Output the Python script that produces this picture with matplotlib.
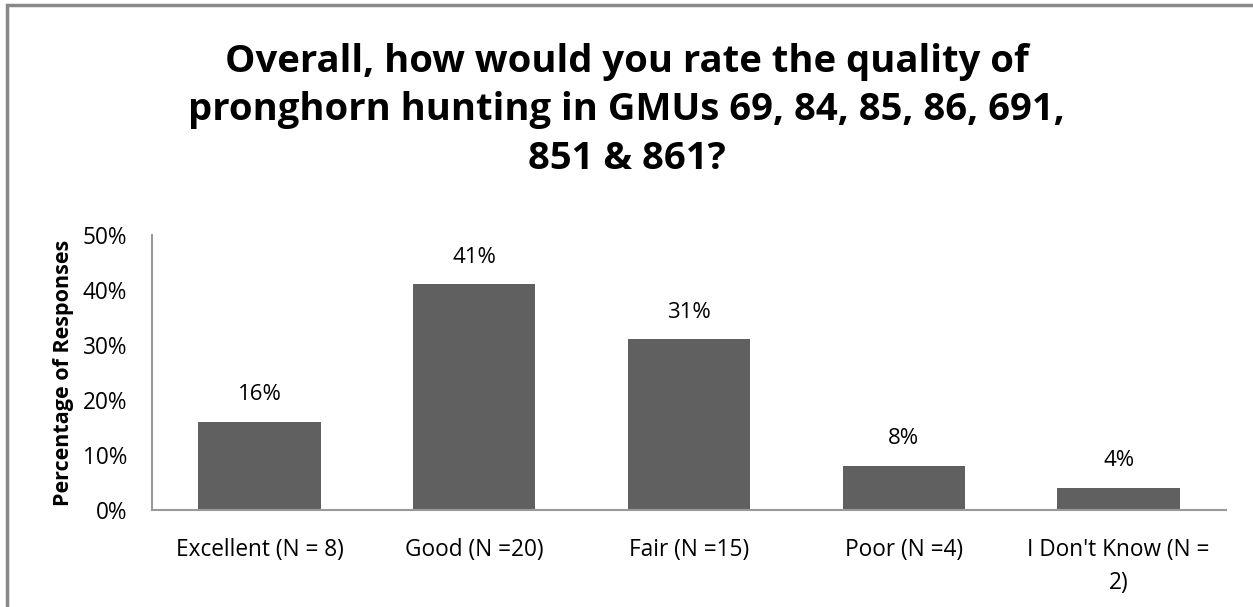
import matplotlib.pyplot as plt
from matplotlib.patches import Rectangle
from matplotlib.ticker import FuncFormatter

categories = ["Excellent (N = 8)", "Good (N =20)", "Fair (N =15)",
              "Poor (N =4)", "I Don't Know (N =\n2)"]
percents = [16, 41, 31, 8, 4]
yticks = [0, 10, 20, 30, 40, 50]

plt.rcParams['font.family'] = ['Open Sans', 'DejaVu Sans']

fig = plt.figure(figsize=(12.53, 6.07), dpi=100)
ax = fig.add_axes([0.1213, 0.1598, 0.8572, 0.4531])

x = range(len(categories))
ax.bar(x, percents, width=0.57, color="#606060")
for xi, p in zip(x, percents):
    ax.text(xi, p + 3.0, f"{p}%", ha="center", va="bottom", fontsize=16)

ax.set_xlim(-0.5, len(categories) - 0.5)
ax.set_ylim(0, 50)
ax.set_yticks(yticks)
ax.yaxis.set_major_formatter(FuncFormatter(lambda v, _: f"{v:.0f}%"))
ax.set_xticks(list(x))
ax.set_xticklabels(categories, fontsize=16.3, linespacing=1.5)
ax.tick_params(axis="y", length=0, labelsize=16.3, pad=18)
ax.tick_params(axis="x", length=0, pad=20)

for side in ("top", "right"):
    ax.spines[side].set_visible(False)
for side in ("left", "bottom"):
    ax.spines[side].set_color("#999999")
    ax.spines[side].set_linewidth(1.5)

ax.set_ylabel("Percentage of Responses", fontsize=15.5, fontweight="bold",
              labelpad=6)

fig.text(0.5, 0.818, "Overall, how would you rate the quality of\n"
         "pronghorn hunting in GMUs 69, 84, 85, 86, 691,\n851 & 861?",
         ha="center", va="center", fontsize=27.5, fontweight="bold",
         linespacing=1.35)

# chart area outline (only top and left edges fall inside the image)
fig.patches.append(Rectangle((7 / 1253, -0.1), 1.2, 1 - 5 / 607 + 0.1,
                             transform=fig.transFigure, fill=False,
                             edgecolor="#888888", linewidth=2.5))

fig.savefig("out.png", dpi=100)
